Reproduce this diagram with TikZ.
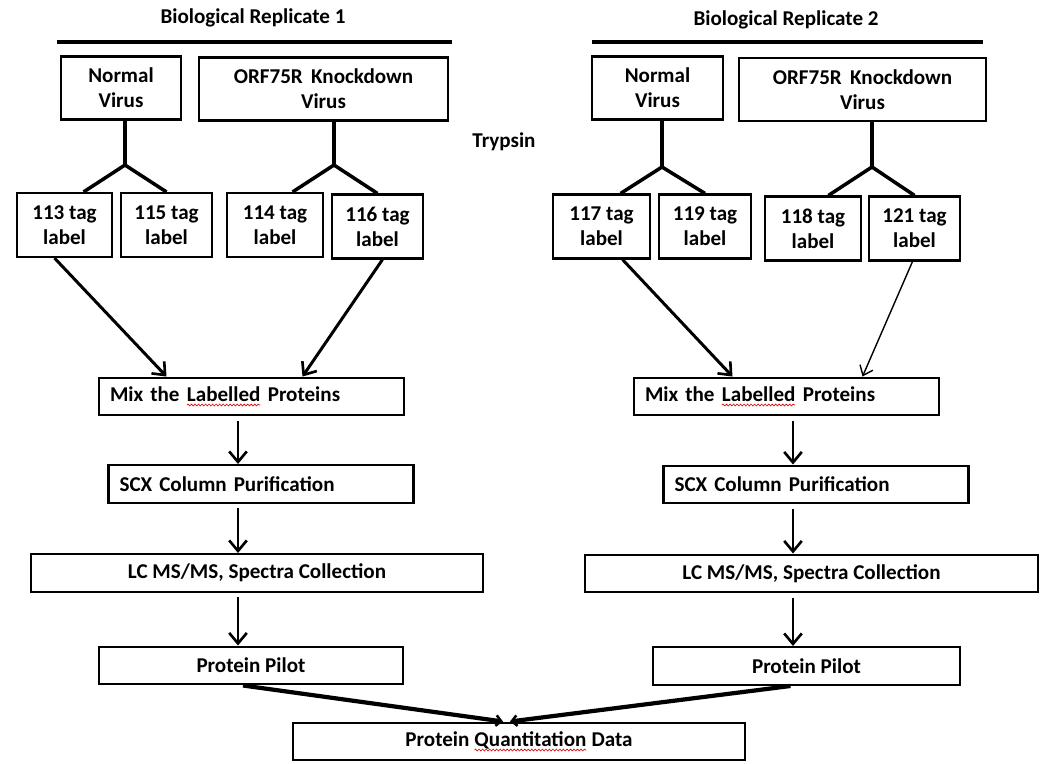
\documentclass[tikz,border=0pt]{standalone}
\usepackage{fontspec}
\setmainfont{Carlito}
\usepackage{tikz}
\usetikzlibrary{positioning, arrows.meta, calc, decorations.pathmorphing}

% parola sottolineata in rosso
\newcommand\ondina[1]{\tikz[baseline=(w.base)]{\node[inner sep=0pt, outer sep=0pt, minimum size=0pt, draw=none] (w) {#1};
    \draw[red!85!black, line width=0.35pt, decorate, decoration={snake, amplitude=0.55pt, segment length=2pt}]
      ([yshift=-2pt]w.base west) -- ([yshift=-2pt]w.base east);}}

\begin{document}
\begin{tikzpicture}[x=0.02cm, y=-0.02cm,
    every node/.style={font=\fontsize{12}{14.2}\selectfont\bfseries},
    scatola/.style={draw, line width=1.2pt, inner sep=0pt, align=center},
    virus/.style={scatola, minimum height=1.26cm},
    tag/.style={scatola, minimum height=1.28cm},
    passo/.style={scatola, line width=1.4pt, minimum height=0.75cm},
    passosx/.style={passo, inner xsep=0.22cm, align=left},
    titolo/.style={inner sep=0pt},
    ramo/.style={line width=2pt},
    freccia/.style={line width=1.7pt, -{Straight Barb[length=6pt, width=10pt, line width=1.5pt]}},
    freccino/.style={line width=0.8pt, -{Straight Barb[length=5pt, width=8pt, line width=0.8pt]}},
    giu/.style={freccia, shorten <=2.5pt},
    grossa/.style={line width=2.4pt, -{Straight Barb[length=3pt, width=6pt, line width=1.4pt]}}]
      \useasboundingbox (0,0) rectangle (1046,764);

      % Titoli
      \node[titolo] (tit1) at (253,18) {Biological Replicate 1};
      \node[titolo] (tit2) at (786,20) {Biological Replicate 2};
      \draw[line width=2.5pt] (57,42) -- (452,42);
      \draw[line width=2.5pt] (592,42) -- (983,42);

      % Virus
      \node[virus, minimum width=2.4cm] (nv1) at (121,88) {Normal\\Virus};
      \node[virus, minimum width=4.98cm] (kd1) at (323.5,89) {ORF75R\, Knockdown\\Virus};
      \node[virus, minimum width=2.62cm] (nv2) at (657.5,88) {Normal\\Virus};
      \node[virus, minimum width=4.94cm] (kd2) at (862.5,89.5) {ORF75R\, Knockdown\\Virus};
      \node[titolo] (tryp) at (504,142) {Trypsin};

      % Etichette
      \node[tag, minimum width=1.9cm] (t113) at (64.5,225) {113 tag\\label};
      \node[tag, minimum width=1.82cm] (t115) at (166.5,225) {115 tag\\label};
      \node[tag, minimum width=1.92cm] (t114) at (275,225) {114 tag\\label};
      \node[tag, minimum width=1.82cm] (t116) at (377.5,226.5) {116 tag\\label};
      \node[tag, minimum width=1.94cm] (t117) at (601.5,226.5) {117 tag\\label};
      \node[tag, minimum width=1.84cm] (t119) at (705,226.5) {119 tag\\label};
      \node[tag, minimum width=1.92cm] (t118) at (813,228.5) {118 tag\\label};
      \node[tag, minimum width=1.82cm] (t121) at (914.5,228.5) {121 tag\\label};

      % Rami
      \coordinate (g1) at (125,165);
      \coordinate (g2) at (334,165);
      \coordinate (g3) at (662,167);
      \coordinate (g4) at (872,167);
      \draw[ramo] (g1 |- nv1.south) -- (g1) -- (t113.60);
      \draw[ramo] (g1) -- (t115.north);
      \draw[ramo] (g2 |- kd1.south) -- (g2) -- (t114.62);
      \draw[ramo] (g2) -- (t116.north);
      \draw[ramo] (g3 |- nv2.south) -- (g3) -- (t117.60);
      \draw[ramo] (g3) -- (t119.north);
      \draw[ramo] (g4 |- kd2.south) -- (g4) -- (t118.65);
      \draw[ramo] (g4) -- (t121.north);

      % Passaggi
      \node[passosx, text width=5.66cm] (mix1) at (251.5,396.5) {Mix the \ondina{Labelled} Proteins};
      \node[passosx, text width=5.66cm] (mix2) at (786.5,396.5) {Mix the \ondina{Labelled} Proteins};
      \node[passosx, text width=5.66cm] (scx1) at (261,484) {SCX Column Purification};
      \node[passosx, text width=5.66cm] (scx2) at (816,484.5) {SCX Column Purification};
      \node[passo, minimum width=9.04cm] (lc1) at (257,573) {LC MS/MS, Spectra Collection};
      \node[passo, minimum width=9.06cm] (lc2) at (811.5,573.5) {LC MS/MS, Spectra Collection};
      \node[passo, minimum width=6.08cm] (pp1) at (251,665.5) {Protein Pilot};
      \node[passo, minimum width=6.14cm] (pp2) at (806.5,666) {Protein Pilot};
      \node[passo, minimum width=9.04cm] (pqd) at (519,741.5) {Protein \ondina{Quantitation} Data};

      % Collegamenti
      \coordinate (c1) at (238,0);
      \coordinate (c2) at (793,0);
      \draw[freccia] ($(t113.south)+(-10,0)$) -- ($(mix1.north)+(-85,0)$);
      \draw[freccia] ($(t116.south)+(5,0)$) -- ($(mix1.north)+(51,0)$);
      \draw[freccia] ($(t117.south)+(21,0)$) -- ($(mix2.north)+(-54,0)$);
      \draw[freccino] ($(t121.south)+(-2,0)$) -- ($(mix2.north)+(76,0)$);
      \draw[giu] (mix1.south -| c1) -- (scx1.north -| c1);
      \draw[giu] (scx1.south -| c1) -- (lc1.north -| c1);
      \draw[giu] (lc1.south -| c1) -- (pp1.north -| c1);
      \draw[giu] (mix2.south -| c2) -- (scx2.north -| c2);
      \draw[giu] (scx2.south -| c2) -- (lc2.north -| c2);
      \draw[giu] (lc2.south -| c2) -- (pp2.north -| c2);
      \draw[grossa] ($(pp1.south)+(-8,0)$) -- ($(pqd.north)+(-16,0)$);
      \draw[grossa] ($(pp2.south)+(-16,0)$) -- ($(pqd.north)+(-9,0)$);
    \end{tikzpicture}
\end{document}
